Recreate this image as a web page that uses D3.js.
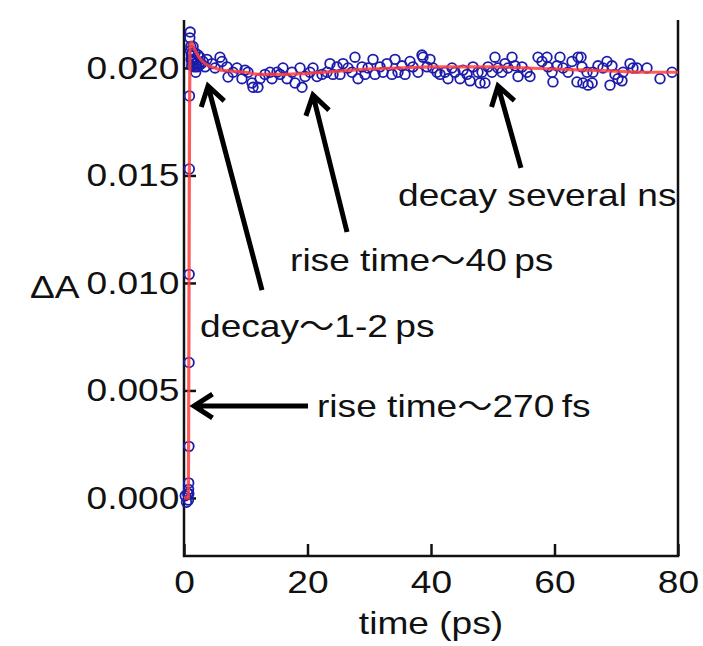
<!DOCTYPE html>
<html>
<head>
<meta charset="utf-8">
<script src="https://cdn.jsdelivr.net/npm/d3@7"></script>
<style>
  body { margin: 0; background: #fff; }
  text { font-family: "Liberation Sans", Arial, sans-serif; fill: #111; }
</style>
</head>
<body>
<svg id="chart" width="703" height="646"></svg>
<script>

// measured points (time in ps, delta A)
const times = [
    0.20, 0.40, 0.60, 0.72, 0.74, 0.76, 0.78, 0.80, 0.82, 0.84, 0.86, 0.88,
    0.95, 1.00, 1.05, 1.10, 1.15, 1.20, 1.25, 1.30, 1.35, 1.46, 1.50, 1.60, 1.70, 1.78, 1.90, 2.00, 2.11, 2.27, 2.40, 2.59, 2.80, 3.08, 3.40, 3.72,
    4.53, 5.02, 5.83, 6.15, 6.96, 7.13, 7.94, 8.58, 9.39, 9.88, 10.36, 11.01, 11.17, 11.98, 12.31, 13.12, 13.93, 14.25, 15.06, 15.55,
    16.03, 16.68, 17.49, 17.98, 18.79, 19.11, 19.60, 20.40, 20.89, 21.54, 22.35, 23.16, 23.64, 24.13, 24.78, 25.26, 25.75, 26.56, 27.21,
    27.69, 28.18, 28.83, 29.31, 29.80, 30.61, 30.93, 31.74, 32.23, 32.87,
    33.68, 34.17, 34.66, 35.30, 35.79, 36.60, 37.08, 37.89, 38.54, 38.70, 39.35, 39.84, 40.32, 40.97, 41.46, 42.27, 42.75, 43.40, 43.89,
    44.70, 45.18, 45.83, 46.32, 46.80, 47.61, 47.94,
    48.26, 48.74, 49.23, 49.88, 50.36, 50.85, 51.50, 51.98, 52.47, 53.12, 53.60, 54.09, 54.74, 55.55, 56.03, 57.33, 57.98, 58.79, 58.95,
    59.60, 59.75, 60.40, 60.89, 61.38, 62.19, 62.83, 63.64, 63.81, 64.30, 64.45, 64.60, 65.26, 65.43,
    66.10, 66.23, 67.04, 67.85, 68.50, 68.99, 69.31, 69.80, 70.28, 70.93, 71.09, 72.23, 72.71, 73.36, 74.98, 77.09, 79.03
]
const values = [
    0.0001, -0.0002, 0.0002, -0.0001, 0.0004, 0.0007, 0.0002, 0.0024, 0.0063, 0.0104, 0.0153, 0.0187,
    0.0214, 0.02167, 0.0208, 0.0210, 0.0204, 0.0206, 0.0201, 0.0203, 0.0207, 0.0210, 0.0203, 0.02005, 0.0204, 0.0207, 0.0198, 0.0202, 0.02005, 0.0206, 0.0201, 0.0205, 0.0202, 0.0203, 0.02005, 0.0204,
    0.0202, 0.0200, 0.0205, 0.0203, 0.02005, 0.01958, 0.0198, 0.0200, 0.0195, 0.0199, 0.0198, 0.0193, 0.0191, 0.0191, 0.0195, 0.0197, 0.0198, 0.0195, 0.0198, 0.0197,
    0.0200, 0.0195, 0.0198, 0.0193, 0.0200, 0.0191, 0.0196, 0.0198, 0.0200, 0.0196, 0.0197, 0.0198, 0.0202, 0.0197, 0.02005, 0.0197, 0.0202, 0.0200, 0.0198,
    0.0205, 0.0195, 0.02005, 0.0197, 0.0200, 0.0204, 0.0197, 0.02005, 0.0198, 0.0202,
    0.0197, 0.0204, 0.0198, 0.0201, 0.0197, 0.0203, 0.02005, 0.0198, 0.0206, 0.0205, 0.02005, 0.0204, 0.0200, 0.0198, 0.0197, 0.0198, 0.0195, 0.0200, 0.0198,
    0.0195, 0.0199, 0.0197, 0.0194, 0.02005, 0.0198, 0.0193,
    0.0198, 0.0193, 0.02005, 0.0198, 0.0205, 0.0200, 0.0198, 0.0202, 0.0200, 0.0205, 0.0201, 0.0196, 0.02005, 0.0198, 0.0196, 0.0205, 0.0203, 0.0205, 0.02005,
    0.0198, 0.01935, 0.0201, 0.0205, 0.0200, 0.0198, 0.0203, 0.01935, 0.0205, 0.0205, 0.02005, 0.0193, 0.0198, 0.0192,
    0.0193, 0.0198, 0.0201, 0.0200, 0.0203, 0.0192, 0.0201, 0.0197, 0.0195, 0.0194, 0.0198, 0.0202, 0.0200, 0.0200, 0.0200, 0.0195, 0.0198
]

// fitted curve
const fitTimes = [0, 0.70, 0.75, 0.80, 0.85, 0.90, 0.95, 1.0, 1.2, 1.5, 2, 3, 4, 5, 6, 8, 10, 12, 14, 16, 20, 25, 30, 35, 40, 45, 50, 55, 60, 65, 70, 75, 80]
const fitValues = [0, 0, 0.003, 0.008, 0.014, 0.018, 0.0203, 0.0211, 0.0212, 0.0210, 0.0207, 0.0203, 0.0201, 0.0200, 0.0199, 0.01985,
    0.0198, 0.0197, 0.0197, 0.0197, 0.01975, 0.01985, 0.01995, 0.0200, 0.02005, 0.02005, 0.02005, 0.0200, 0.01995, 0.0199, 0.01985, 0.0198, 0.0198]

const xTicks = [0, 20, 40, 60, 80]
const yTicks = [0, 0.005, 0.010, 0.015, 0.020]

// annotations: text before and after the wave dash, where the text starts, arrow tail and tip (data units)
const noteHeads = ['decay several ns', 'rise time', 'decay', 'rise time']
const noteTails = ['', '40\u2009ps', '1-2\u2009ps', '270\u2009fs']
const noteAt = [[34.66, 0.01358], [17.17, 0.01056], [2.59, 0.00749], [21.54, 0.00377]]
const arrowFrom = [[54.57, 0.01535], [26.40, 0.01237], [12.63, 0.00967], [20.08, 0.00428]]
const arrowTo = [[50.85, 0.01916], [20.89, 0.01874], [3.89, 0.01916], [1.62, 0.00428]]

const svg = d3.select('#chart')

const plotLeft = 184, plotRight = 678, plotTop = 20, plotBottom = 556
const stretch = 'scale(1.16,1)'
const fontSize = 32

const x = d3.scaleLinear().domain([0, 80]).range([plotLeft, plotRight])
const y = d3.scaleLinear().domain([-0.0027, 0.02223]).range([plotBottom, plotTop])

// axes, ticks pointing inward
const yAxis = svg.append('g')
    .attr('transform', `translate(${plotLeft},0)`)
    .call(d3.axisLeft(y).tickValues(yTicks).tickFormat(d3.format('.3f')).tickSizeInner(-12).tickSizeOuter(0).tickPadding(4))
const xAxis = svg.append('g')
    .attr('transform', `translate(0,${plotBottom})`)
    .call(d3.axisBottom(x).tickValues(xTicks).tickFormat(d3.format('d')).tickSizeInner(-12).tickSizeOuter(0).tickPadding(14))

for (const g of [xAxis, yAxis]) {
    g.select('.domain').remove()
    g.selectAll('.tick line').attr('stroke', '#111').attr('stroke-width', 2.5)
    g.selectAll('.tick text')
        .attr('font-size', fontSize)
        .attr('font-family', '"Liberation Sans", Arial, sans-serif')
        .attr('fill', '#111')
        .attr('transform', stretch)
}

// frame: left, bottom and right sides
svg.append('path')
    .attr('d', `M${plotLeft},${plotTop}V${plotBottom}H${plotRight}V${plotTop}`)
    .attr('fill', 'none')
    .attr('stroke', '#111')
    .attr('stroke-width', 2.5)

// axis titles
svg.append('text')
    .attr('transform', `translate(${(plotLeft + plotRight) / 2},634) ${stretch}`)
    .attr('text-anchor', 'middle')
    .attr('font-size', fontSize)
    .text('time (ps)')
svg.append('text')
    .attr('transform', `translate(30,298) ${stretch}`)
    .attr('font-size', fontSize)
    .text('ΔA')

// data points
const points = times.map((t, i) => ({ t, v: values[i] }))
svg.append('g')
    .selectAll('circle')
    .data(points)
    .join('circle')
    .attr('cx', d => x(d.t))
    .attr('cy', d => y(d.v))
    .attr('r', 4.8)
    .attr('fill', 'none')
    .attr('stroke', '#1c1caa')
    .attr('stroke-width', 1.8)

// fit line
const fit = fitTimes.map((t, i) => ({ t, v: fitValues[i] }))
svg.append('path')
    .datum(fit)
    .attr('d', d3.line().x(d => x(d.t)).y(d => y(d.v)).curve(d3.curveMonotoneX))
    .attr('fill', 'none')
    .attr('stroke', '#ff4040')
    .attr('stroke-width', 3.2)
    .attr('stroke-opacity', 0.85)

// arrows and their labels
const head = 22, spread = Math.PI / 5.5
noteHeads.forEach((label, i) => {
    const x0 = x(arrowFrom[i][0]), y0 = y(arrowFrom[i][1])
    const x1 = x(arrowTo[i][0]), y1 = y(arrowTo[i][1])
    const a = Math.atan2(y0 - y1, x0 - x1)
    const p1 = [x1 + head * Math.cos(a - spread), y1 + head * Math.sin(a - spread)]
    const p2 = [x1 + head * Math.cos(a + spread), y1 + head * Math.sin(a + spread)]
    svg.append('path')
        .attr('d', `M${x0},${y0}L${x1},${y1}M${p1}L${x1},${y1}L${p2}`)
        .attr('fill', 'none')
        .attr('stroke', '#000')
        .attr('stroke-width', 5)
        .attr('stroke-linejoin', 'miter')
    const t = svg.append('text')
        .attr('transform', `translate(${x(noteAt[i][0])},${y(noteAt[i][1])}) ${stretch}`)
        .attr('font-size', fontSize)
    t.append('tspan').text(label)
    if (noteTails[i]) {
        t.append('tspan')
            .attr('font-family', '"Noto Sans CJK JP", sans-serif')
            .attr('font-size', fontSize * 0.95)
            .text('～')
        t.append('tspan').text(noteTails[i])
    }
})

</script>
</body>
</html>
